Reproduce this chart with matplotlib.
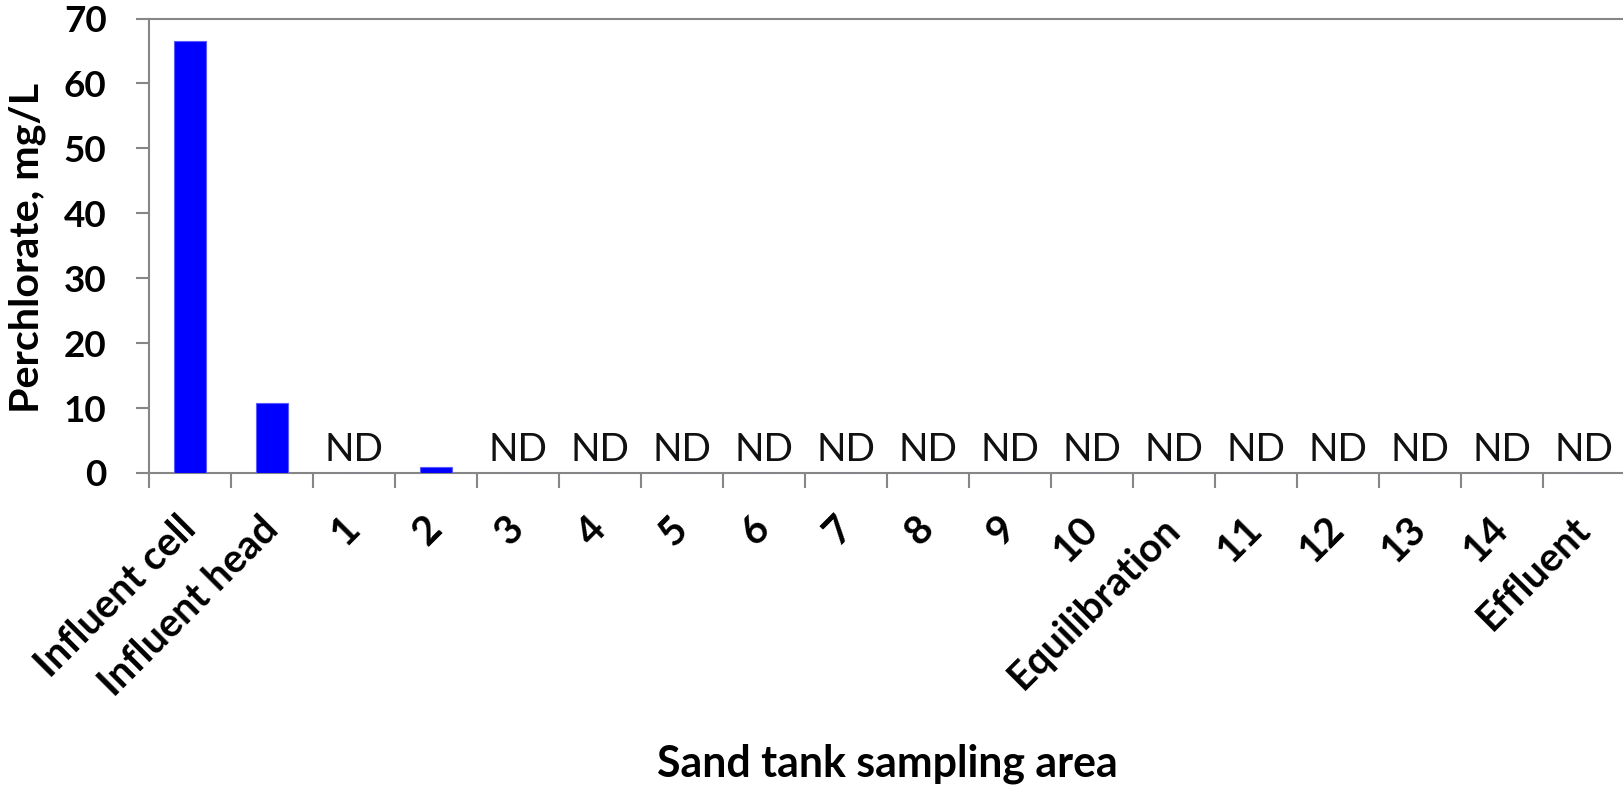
import matplotlib
matplotlib.use("Agg")
import matplotlib.pyplot as plt
import numpy as np

# Data
categories = ["Influent cell", "Influent head", "1", "2", "3", "4", "5", "6", "7",
              "8", "9", "10", "Equilibration", "11", "12", "13", "14", "Effluent"]
# None = not detected (ND)
perchlorate = [66.5, 10.8, None, 0.85, None, None, None, None, None,
               None, None, None, None, None, None, None, None, None]
y_ticks = [0, 10, 20, 30, 40, 50, 60, 70]

plt.rcParams["font.family"] = ["Lato", "DejaVu Sans"]
AXIS_GRAY = "#868686"
W, H = 1623, 786

fig = plt.figure(figsize=(W / 100, H / 100), dpi=100)
renderer = fig.canvas.get_renderer()


def fit_size(text, target_px, weight="normal"):
    """Font size (pt) that makes `text` about target_px wide."""
    t = fig.text(0, 0, text, fontsize=20, fontweight=weight)
    w = t.get_window_extent(renderer).width
    t.remove()
    return 20 * target_px / w


ax = fig.add_axes([149 / W, 1 - 473 / H, (1625 - 149) / W, (473 - 18.5) / H])

x = np.arange(len(categories))
heights = [v if v is not None else 0 for v in perchlorate]
ax.bar(x, heights, width=0.40, color="#0000ff", edgecolor="#5a5aff", linewidth=0.8, zorder=3)

# ND labels for non-detects
nd_size = fit_size("ND", 59)
for xi, v in zip(x, perchlorate):
    if v is None:
        ax.annotate("ND", (xi, 0), xytext=(0, 8.5), textcoords="offset points",
                    ha="center", va="baseline", fontsize=nd_size, color="#111111")

ax.set_xlim(-0.5, len(categories) - 0.5)
ax.set_ylim(0, 70)
ax.set_yticks(y_ticks)
ax.set_yticklabels([str(t) for t in y_ticks], fontsize=fit_size("70", 43, "bold"),
                   fontweight="bold")

# Excel style: tick marks between categories, labels at centres
ax.set_xticks(np.arange(len(categories) + 1) - 0.5)
ax.set_xticklabels([])
ax.set_xticks(x, minor=True)
ax.set_xticklabels(categories, minor=True, rotation=45, ha="right", va="center",
                   rotation_mode="anchor", fontsize=fit_size("Equilibration", 227, "bold"),
                   fontweight="bold")
ax.tick_params(axis="x", which="minor", length=0, pad=36)
ax.tick_params(axis="x", which="major", length=11, width=1.5, color=AXIS_GRAY)
ax.tick_params(axis="y", length=9.5, width=1.5, color=AXIS_GRAY, pad=21)

for side in ["left", "bottom", "top"]:
    ax.spines[side].set_color(AXIS_GRAY)
    ax.spines[side].set_linewidth(1.5)
ax.spines["right"].set_visible(False)

fig.text(27 / W, 1 - 248 / H, "Perchlorate, mg/L", rotation=90, ha="center",
         va="center", fontsize=fit_size("Perchlorate, mg/L", 330, "bold"), fontweight="bold")
fig.text(887 / W, 1 - 777 / H, "Sand tank sampling area", ha="center", va="baseline",
         fontsize=fit_size("Sand tank sampling area", 461, "bold"), fontweight="bold")

fig.savefig("out.png", dpi=100)
